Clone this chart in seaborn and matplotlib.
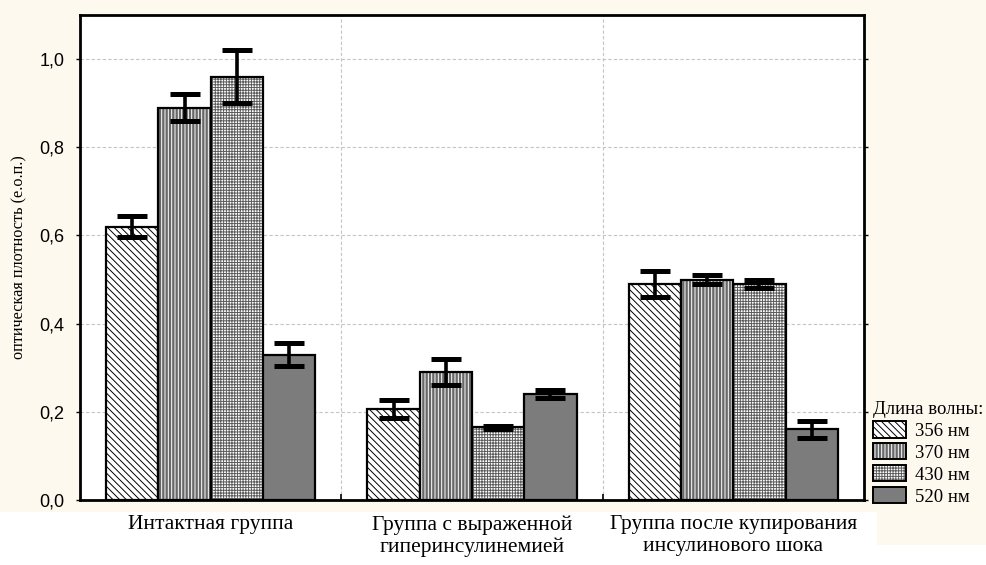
import matplotlib
matplotlib.use("Agg")
import matplotlib.pyplot as plt
import matplotlib.patches as mpatches
from matplotlib.colors import to_rgba
from matplotlib.ticker import FixedLocator
import seaborn as sns
import pandas as pd

# Groups and wavelengths
groups = ["Интактная группа",
          "Группа с выраженной\nгиперинсулинемией",
          "Группа после купирования\nинсулинового шока"]
wavelengths = ["356 нм", "370 нм", "430 нм", "520 нм"]

# Mean optical density per group for each wavelength
nm356 = [0.62, 0.207, 0.49]
nm370 = [0.89, 0.29, 0.50]
nm430 = [0.96, 0.165, 0.49]
nm520 = [0.33, 0.24, 0.16]

# Error half-widths
err356 = [0.023, 0.020, 0.030]
err370 = [0.030, 0.030, 0.010]
err430 = [0.060, 0.003, 0.010]
err520 = [0.026, 0.009, 0.020]

y_ticks = [0.0, 0.2, 0.4, 0.6, 0.8, 1.0]
y_tick_labels = ["0,0", "0,2", "0,4", "0,6", "0,8", "1,0"]

means = [nm356, nm370, nm430, nm520]
errs = [err356, err370, err430, err520]

# Fill styles: face colour, hatch pattern, hatch colour
styles = [
    ("white", "\\\\\\\\\\", "black"),
    ("#686868", "|||||", "white"),
    ("white", "++++++", "#5c5c5c"),
    ("#7c7c7c", "", "black"),
]

plt.rcParams["hatch.linewidth"] = 0.7
serif = ["Liberation Serif", "DejaVu Serif"]
sans = ["Liberation Sans", "DejaVu Sans"]

rows = []
for wl, vals in zip(wavelengths, means):
    for g, v in zip(groups, vals):
        rows.append({"group": g, "wl": wl, "value": v})
df = pd.DataFrame(rows)

fig = plt.figure(figsize=(9.87, 5.65), dpi=100)
fig.patch.set_facecolor("white")
cream = "#fef9ee"
W, H = 987.0, 565.0
fig.add_artist(mpatches.Rectangle((0, 1 - 512 / H), 1, 512 / H,
                                  transform=fig.transFigure, color=cream,
                                  zorder=-10, lw=0))
fig.add_artist(mpatches.Rectangle((877 / W, 1 - 545 / H), 1 - 877 / W, 33 / H,
                                  transform=fig.transFigure, color=cream,
                                  zorder=-10, lw=0))

ax = fig.add_axes([80 / W, 65 / H, 784 / W, 485 / H])
ax.set_facecolor("white")

sns.barplot(data=df, x="group", y="value", hue="wl", order=groups,
            hue_order=wavelengths, errorbar=None, width=0.8, ax=ax,
            legend=False)

for cont, (fc, hatch, hc), err in zip(ax.containers, styles, errs):
    xs, ys = [], []
    for bar in cont:
        bar.set_facecolor(fc)
        bar.set_edgecolor("black")
        bar.set_linewidth(1.6)
        bar.set_hatch(hatch)
        bar._hatch_color = to_rgba(hc)
        bar.set_zorder(2)
        xs.append(bar.get_x() + bar.get_width() / 2)
        ys.append(bar.get_height())
    ax.errorbar(xs, ys, yerr=err, fmt="none", ecolor="black",
                elinewidth=2.6, capsize=11, capthick=3.6, zorder=3)

ax.set_xlim(-0.5, 2.5)
ax.set_ylim(0, 1.1)
ax.set_axisbelow(True)
ax.yaxis.set_major_locator(FixedLocator(y_ticks))
ax.set_yticklabels(y_tick_labels, fontfamily=sans, fontsize=13)
ax.yaxis.grid(True, linestyle=(0, (3, 2)), color="#c4c4c4", linewidth=0.8)
for xv in (0.5, 1.5):
    ax.axvline(xv, linestyle=(0, (3, 2)), color="#c4c4c4", linewidth=0.8,
               zorder=0.5)

ax.set_xticks(range(len(groups)))
ax.set_xticklabels(groups, fontfamily=serif, fontsize=15.5, linespacing=1.22)
ax.tick_params(axis="x", length=0, pad=11)
ax.xaxis.set_minor_locator(FixedLocator([0.5, 1.5]))
ax.tick_params(axis="x", which="minor", direction="in", length=4,
               width=1.2, color="black")
ax.tick_params(axis="y", direction="out", length=3, width=1, right=True,
               pad=8)
ax.set_xlabel("")
ax.set_ylabel("оптическая плотность (е.о.п.)", fontfamily=serif,
              fontsize=11.7, labelpad=9)

for sp in ax.spines.values():
    sp.set_visible(True)
    sp.set_color("black")
    sp.set_linewidth(2)

# Legend
handles = []
for (fc, hatch, hc), wl in zip(styles, wavelengths):
    p = mpatches.Patch(facecolor=fc, edgecolor="black", hatch=hatch,
                       linewidth=1.4, label=wl)
    p._hatch_color = to_rgba(hc)
    handles.append(p)
leg = fig.legend(handles=handles, title="Длина волны:", loc="upper left",
                 bbox_to_anchor=(873 / W, 1 - 401 / H), frameon=False,
                 prop={"family": serif, "size": 13.5},
                 title_fontproperties={"family": serif, "size": 13.5},
                 alignment="left", handlelength=1.75, handleheight=0.95,
                 handletextpad=0.5, labelspacing=0.18, borderpad=0.0,
                 borderaxespad=0)

fig.savefig("out.png", dpi=100)
